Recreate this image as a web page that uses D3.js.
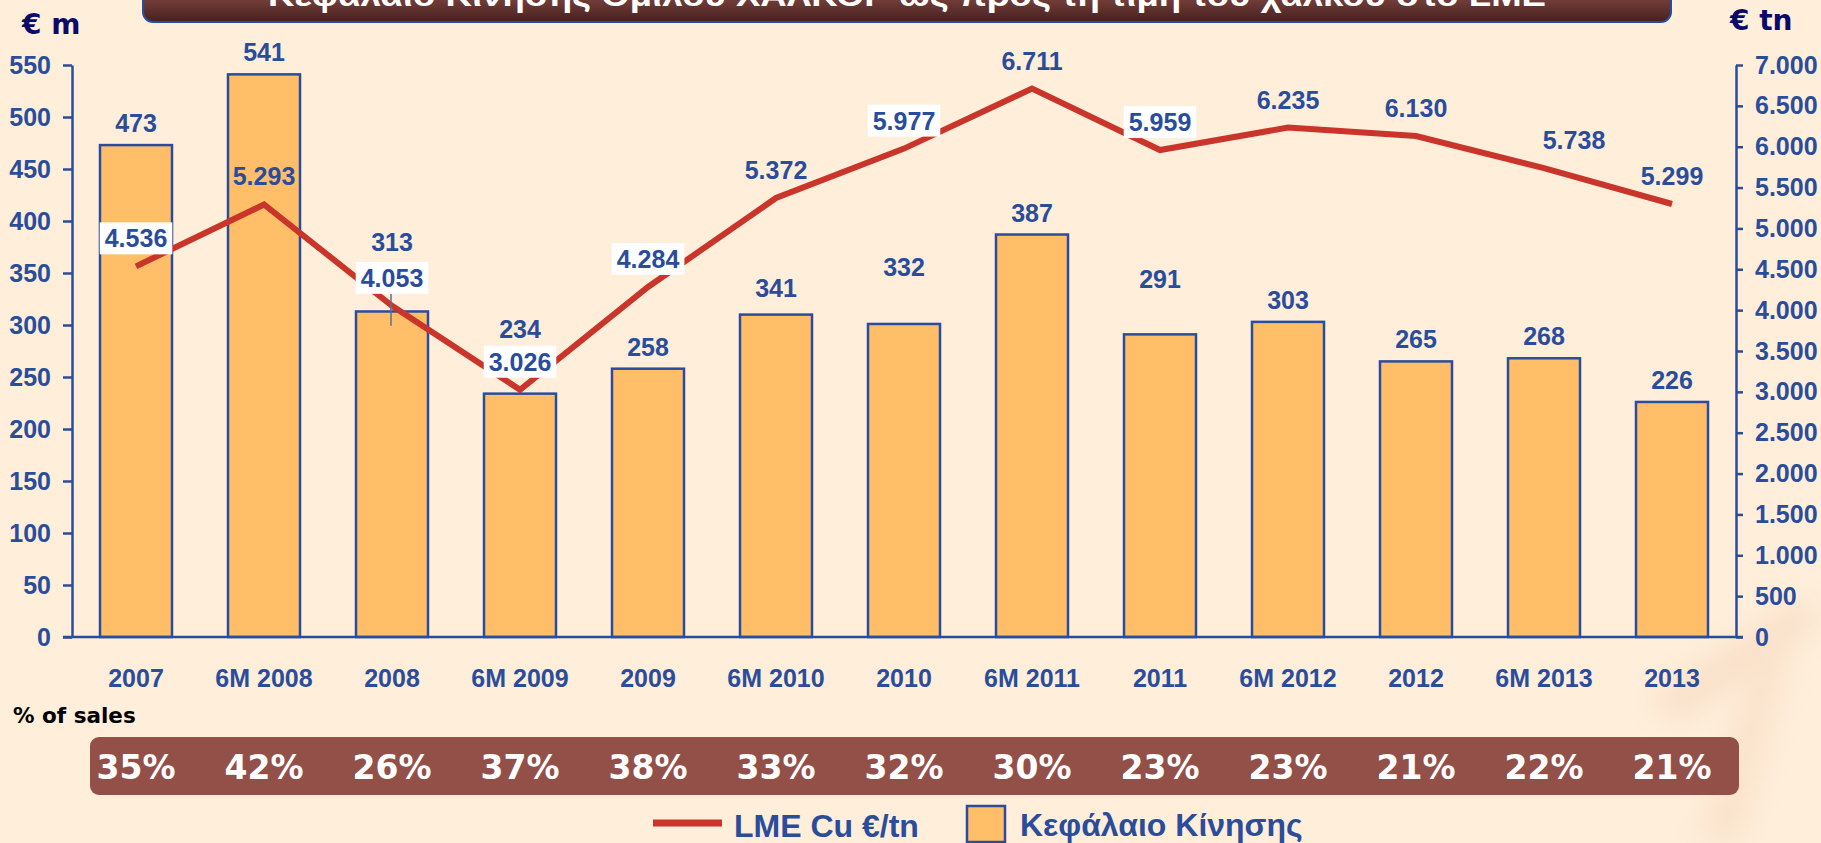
<!DOCTYPE html>
<html>
<head>
<meta charset="utf-8">
<script src="https://cdn.jsdelivr.net/npm/d3@7"></script>
<style>
  html, body { margin: 0; padding: 0; background: #FEEEDA; }
  svg { display: block; }
</style>
</head>
<body>
<svg id="chart" width="1821" height="843"></svg>
<script>
const categories = ['2007', '6M 2008', '2008', '6M 2009', '2009', '6M 2010', '2010', '6M 2011', '2011', '6M 2012', '2012', '6M 2013', '2013']
// bar heights as drawn in the picture (6M 2010 and 2010 are drawn lower than their printed labels)
const workingCapital = [473, 541, 313, 234, 258, 310, 301, 387, 291, 303, 265, 268, 226]
const workingCapitalLabels = ['473', '541', '313', '234', '258', '341', '332', '387', '291', '303', '265', '268', '226']
const lmeCu = [4536, 5293, 4053, 3026, 4284, 5372, 5977, 6711, 5959, 6235, 6130, 5738, 5299]
const salesPct = [35, 42, 26, 37, 38, 33, 32, 30, 23, 23, 21, 22, 21]
const leftTicks = [0, 50, 100, 150, 200, 250, 300, 350, 400, 450, 500, 550]
const rightTicks = [0, 500, 1000, 1500, 2000, 2500, 3000, 3500, 4000, 4500, 5000, 5500, 6000, 6500, 7000]

const titleText = 'Κεφάλαιο Κίνησης Ομίλου ΧΑΛΚΟΡ ως προς τη τιμή του χαλκού στο LME'
const seriesLine = 'LME Cu €/tn'
const seriesBar = 'Κεφάλαιο Κίνησης'

// label layout tweaks (as placed in the original)
const boxedLabels = [0, 2, 3, 4, 6, 8]
const barLabelShift = { 2: -47, 3: -43, 5: -5, 6: -35, 8: -33 }
const lineLabelShiftX = { 11: 30 }

const svg = d3.select('#chart')
const blue = '#2A4D9B'
const navy = '#0A0A6B'
const barFill = '#FFBE67'
const red = '#C9352A'
const arial = '"Liberation Sans", Arial, sans-serif'
const verdana = '"DejaVu Sans", Verdana, sans-serif'

const plotLeft = 72
const plotRight = 1736
const plotBottom = 637
const plotTop = 65

const gr = d3.formatLocale({ decimal: ',', thousands: '.', grouping: [3], currency: ['€', ''] })
const fmt = gr.format(',')

const xScale = d3.scaleBand()
	.domain(categories)
	.range([plotLeft, plotRight])
	.paddingInner(0.4375)
	.paddingOuter(0.21875)

const yLeft = d3.scaleLinear()
	.domain([0, 550])
	.range([plotBottom, plotTop])

const yRight = d3.scaleLinear()
	.domain([0, 7000])
	.range([plotBottom, plotTop])

const xc = c => xScale(c) + xScale.bandwidth() / 2

const defs = svg.append('defs')

// faint background picture in the bottom right corner
defs.append('filter')
	.attr('id', 'blur')
	.append('feGaussianBlur')
	.attr('stdDeviation', 14)

const deco = svg.append('g')
	.style('filter', 'url(#blur)')
	.style('opacity', 0.35)
deco.append('path')
	.attr('d', 'M 1650 700 L 1800 600 L 1821 620 L 1680 720 Z')
	.attr('fill', '#F2C4A8')
deco.append('path')
	.attr('d', 'M 1700 843 L 1760 640 L 1790 650 L 1740 843 Z')
	.attr('fill', '#F4CDB2')

// title bar
const grad = defs.append('linearGradient')
	.attr('id', 'titleGrad')
	.attr('x1', 0).attr('y1', 0).attr('x2', 0).attr('y2', 1)
grad.append('stop').attr('offset', '0%').attr('stop-color', '#9A5650')
grad.append('stop').attr('offset', '100%').attr('stop-color', '#45201F')

svg.append('rect')
	.attr('x', 143)
	.attr('y', -20)
	.attr('width', 1671 - 143)
	.attr('height', 42)
	.attr('rx', 10)
	.attr('fill', 'url(#titleGrad)')
	.style('stroke', blue)
	.style('stroke-width', 2)

svg.append('text')
	.attr('x', 907)
	.attr('y', 6)
	.attr('text-anchor', 'middle')
	.attr('textLength', 1278)
	.attr('lengthAdjust', 'spacingAndGlyphs')
	.style('font-family', arial)
	.style('font-weight', 'bold')
	.style('font-size', '31px')
	.style('fill', '#ffffff')
	.text(titleText)

// unit labels
svg.append('text')
	.attr('x', 22)
	.attr('y', 34)
	.style('font-family', verdana)
	.style('font-weight', 'bold')
	.style('font-size', '28px')
	.style('fill', navy)
	.text('€ m')

svg.append('text')
	.attr('x', 1730)
	.attr('y', 30)
	.style('font-family', verdana)
	.style('font-weight', 'bold')
	.style('font-size', '28px')
	.style('fill', navy)
	.text('€ tn')

// axes
const leftAxis = svg.append('g')
	.attr('transform', `translate(${plotLeft}, 0)`)
	.call(d3.axisLeft(yLeft).tickValues(leftTicks).tickSize(9).tickSizeOuter(0).tickPadding(12))

const rightAxis = svg.append('g')
	.attr('transform', `translate(${plotRight}, 0)`)
	.call(d3.axisRight(yRight).tickValues(rightTicks).tickFormat(fmt).tickSize(7).tickSizeOuter(0).tickPadding(12))

svg.selectAll('.domain, .tick line')
	.style('stroke', blue)
	.style('stroke-width', 2.5)

svg.selectAll('.tick text')
	.style('font-family', arial)
	.style('font-weight', 'bold')
	.style('font-size', '25px')
	.style('fill', blue)

// bars
svg.append('g')
	.selectAll('rect')
	.data(workingCapital)
	.enter()
	.append('rect')
		.attr('x', (d, i) => xScale(categories[i]))
		.attr('y', d => yLeft(d))
		.attr('width', xScale.bandwidth())
		.attr('height', d => plotBottom - yLeft(d))
		.attr('fill', barFill)
		.style('stroke', blue)
		.style('stroke-width', 2.5)

// x axis line
svg.append('line')
	.attr('x1', plotLeft - 9)
	.attr('x2', plotRight + 7)
	.attr('y1', plotBottom)
	.attr('y2', plotBottom)
	.style('stroke', blue)
	.style('stroke-width', 2.5)

const xAxis = svg.append('g')
	.attr('transform', `translate(0, ${plotBottom})`)
	.call(d3.axisBottom(xScale).tickSize(0).tickPadding(32))
xAxis.select('.domain').remove()
xAxis.selectAll('text')
	.style('font-family', arial)
	.style('font-weight', 'bold')
	.style('font-size', '25px')
	.style('fill', blue)

// bar labels
svg.append('g')
	.selectAll('text')
	.data(workingCapital)
	.enter()
	.append('text')
		.attr('x', (d, i) => xc(categories[i]))
		.attr('y', (d, i) => yLeft(d) - 13 + (barLabelShift[i] || 0))
		.attr('text-anchor', 'middle')
		.style('font-family', arial)
		.style('font-weight', 'bold')
		.style('font-size', '25px')
		.style('fill', blue)
		.text((d, i) => workingCapitalLabels[i])

// copper price line
const line = d3.line()
	.x((d, i) => xc(categories[i]))
	.y(d => yRight(d))

svg.append('path')
	.datum(lmeCu)
	.attr('d', line)
	.attr('fill', 'none')
	.style('stroke', red)
	.style('stroke-width', 6)
	.style('stroke-linejoin', 'miter')

// leader line of 2008 label
svg.append('line')
	.attr('x1', xc(categories[2]) - 1)
	.attr('x2', xc(categories[2]) - 1)
	.attr('y1', yRight(lmeCu[2]) - 12)
	.attr('y2', yRight(lmeCu[2]) + 20)
	.style('stroke', '#5A6E9C')
	.style('stroke-width', 1.5)

// line labels
const lineLabels = svg.append('g')
	.selectAll('g')
	.data(lmeCu)
	.enter()
	.append('g')
		.attr('transform', (d, i) => `translate(${xc(categories[i]) + (lineLabelShiftX[i] || 0)}, ${yRight(d) - 19})`)

lineLabels.filter((d, i) => boxedLabels.includes(i))
	.append('rect')
		.attr('fill', '#ffffff')

lineLabels.append('text')
	.attr('text-anchor', 'middle')
	.style('font-family', arial)
	.style('font-weight', 'bold')
	.style('font-size', '25px')
	.style('fill', blue)
	.text(d => fmt(d))

lineLabels.each(function () {
	const g = d3.select(this)
	const rect = g.select('rect')
	if (rect.empty()) return
	const bb = g.select('text').node().getBBox()
	rect
		.attr('x', bb.x - 5)
		.attr('y', -25)
		.attr('width', bb.width + 10)
		.attr('height', 32)
})

// % of sales
svg.append('text')
	.attr('x', 13)
	.attr('y', 723)
	.style('font-family', verdana)
	.style('font-weight', 'bold')
	.style('font-size', '21.5px')
	.style('fill', '#000000')
	.text('% of sales')

svg.append('rect')
	.attr('x', 90)
	.attr('y', 737)
	.attr('width', 1739 - 90)
	.attr('height', 58)
	.attr('rx', 9)
	.attr('fill', '#935048')

svg.append('g')
	.selectAll('text')
	.data(salesPct)
	.enter()
	.append('text')
		.attr('x', (d, i) => xc(categories[i]))
		.attr('y', 779)
		.attr('text-anchor', 'middle')
		.style('font-family', verdana)
		.style('font-weight', 'bold')
		.style('font-size', '33px')
		.style('fill', '#ffffff')
		.text(d => d + '%')

// legend
svg.append('line')
	.attr('x1', 653)
	.attr('x2', 722)
	.attr('y1', 823)
	.attr('y2', 823)
	.style('stroke', red)
	.style('stroke-width', 7)

svg.append('text')
	.attr('x', 734)
	.attr('y', 837)
	.style('font-family', arial)
	.style('font-weight', 'bold')
	.style('font-size', '32px')
	.style('fill', blue)
	.text(seriesLine)

svg.append('rect')
	.attr('x', 967)
	.attr('y', 806)
	.attr('width', 38)
	.attr('height', 36)
	.attr('fill', barFill)
	.style('stroke', blue)
	.style('stroke-width', 2.5)

svg.append('text')
	.attr('x', 1020)
	.attr('y', 836)
	.style('font-family', arial)
	.style('font-weight', 'bold')
	.style('font-size', '32px')
	.style('fill', blue)
	.text(seriesBar)
</script>
</body>
</html>
